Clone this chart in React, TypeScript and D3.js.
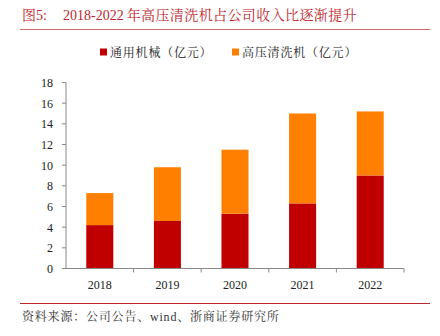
import React from "react";
import * as d3 from "d3";

const years = ["2018", "2019", "2020", "2021", "2022"];
const general = [4.2, 4.6, 5.3, 6.3, 9.0];
const washer = [3.1, 5.2, 6.2, 8.7, 6.2];
const yTicks = [0, 2, 4, 6, 8, 10, 12, 14, 16, 18];
const seriesNames = ["通用机械（亿元）", "高压清洗机（亿元）"];
const colors = ["#C00000", "#FF8000"];

export default function App() {
  const W = 440, H = 336;
  const x0 = 66, x1 = 404, yBase = 268.5, yTop = 82.5;
  const x = d3.scaleBand<string>().domain(years).range([x0, x1]).paddingInner(0.6).paddingOuter(0.3);
  const y = d3.scaleLinear().domain([0, 18]).range([yBase, yTop]);
  const band = (x1 - x0) / years.length;
  const serif = "'Times New Roman', 'Liberation Serif', 'Noto Serif CJK SC', 'Noto Sans CJK SC', serif";
  const cjk = "'Noto Serif CJK SC', 'Noto Sans CJK SC', serif";
  const stacked = years.map((yr, i) => ({ yr, a: general[i], b: washer[i] }));
  return (
    <div style={{ position: "absolute", left: 0, top: 0 }}>
      <svg width={W} height={H} style={{ display: "block", background: "#fff" }}>
        <text x={22} y={20} fontSize={14} fill="#C0272D" fontFamily={serif}>
          <tspan fontFamily={cjk}>图</tspan>
          <tspan>5:</tspan>
          <tspan x={63}>2018-2022</tspan>
          <tspan fontFamily={cjk} dx={3} letterSpacing={0.4}>年高压清洗机占公司收入比逐渐提升</tspan>
        </text>
        <line x1={20} x2={430} y1={29.5} y2={29.5} stroke="#D26A6A" strokeWidth={1.2} />
        {seriesNames.map((n, i) => {
          const lx = i === 0 ? 100 : 232;
          return (
            <g key={n}>
              <rect x={lx} y={48.5} width={7} height={7} fill={colors[i]} />
              <text x={lx + 10} y={57} fontSize={12} fontFamily={cjk} fill="#222" letterSpacing={0.8}>{n}</text>
            </g>
          );
        })}
        {stacked.map((d) => (
          <g key={d.yr}>
            <rect x={x(d.yr)} width={x.bandwidth()} y={y(d.a)} height={y(0) - y(d.a)} fill={colors[0]} />
            <rect x={x(d.yr)} width={x.bandwidth()} y={y(d.a + d.b)} height={y(d.a) - y(d.a + d.b)} fill={colors[1]} />
          </g>
        ))}
        <line x1={x0} x2={x0} y1={yTop} y2={yBase} stroke="#888" strokeWidth={1} />
        <line x1={x0} x2={x1} y1={yBase} y2={yBase} stroke="#888" strokeWidth={1} />
        {yTicks.map((t) => (
          <g key={t}>
            <line x1={x0 - 4} x2={x0} y1={y(t)} y2={y(t)} stroke="#888" />
            <text x={53} y={y(t) + 4.5} fontSize={12} textAnchor="end" fontFamily={serif} fill="#222">{t}</text>
          </g>
        ))}
        {years.map((yr, i) => (
          <g key={yr}>
            <line x1={x0 + band * (i + 1)} x2={x0 + band * (i + 1)} y1={yBase} y2={yBase + 4} stroke="#888" />
            <text x={(x(yr) as number) + x.bandwidth() / 2} y={289} fontSize={12} textAnchor="middle" fontFamily={serif} fill="#222">{yr}</text>
          </g>
        ))}
        <line x1={20} x2={430} y1={303.5} y2={303.5} stroke="#C0272D" strokeWidth={1} />
        <text x={22} y={321} fontSize={12} fontFamily={cjk} fill="#333" letterSpacing={0.8}>
          资料来源：公司公告、<tspan fontFamily={serif}>wind</tspan>、浙商证券研究所
        </text>
      </svg>
    </div>
  );
}
